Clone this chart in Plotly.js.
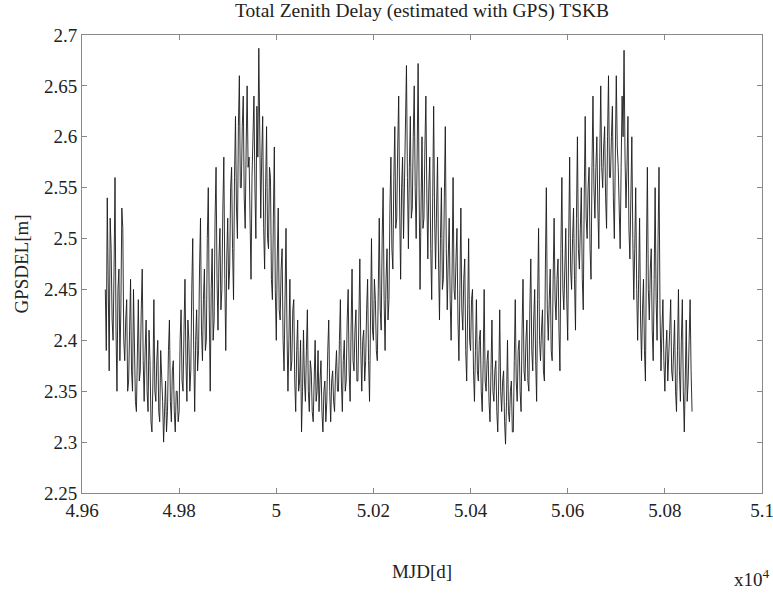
<!DOCTYPE html>
<html>
<head>
<meta charset="utf-8">
<script src="https://cdn.plot.ly/plotly-3.0.1.min.js"></script>
<style>html,body{margin:0;padding:0;background:#fff;}#chart{width:773px;height:594px;}</style>
</head>
<body>
<div id="chart"></div>
<script>
// Sampling grid (MJD, days)
const mjdStart = 49648;
const mjdStep = 2;

// Total zenith delay values [m] (one row = 40 days)
const gpsdel = [
  2.45,2.39,2.54,2.44,2.37,2.52,2.49,2.42,2.40,2.47,2.56,2.41,2.35,2.45,2.47,2.38,2.43,2.53,2.51,2.40,
  2.38,2.42,2.44,2.35,2.36,2.41,2.46,2.37,2.35,2.45,2.40,2.34,2.33,2.39,2.44,2.36,2.37,2.43,2.47,2.38,
  2.34,2.39,2.42,2.35,2.33,2.41,2.38,2.32,2.31,2.36,2.44,2.35,2.34,2.38,2.40,2.33,2.32,2.39,2.37,2.34,
  2.30,2.34,2.36,2.31,2.33,2.39,2.42,2.34,2.32,2.37,2.38,2.33,2.31,2.35,2.35,2.32,2.33,2.40,2.43,2.36,
  2.35,2.41,2.46,2.38,2.34,2.42,2.40,2.35,2.37,2.45,2.50,2.39,2.33,2.40,2.43,2.37,2.39,2.47,2.52,2.41,
  2.38,2.44,2.47,2.39,2.40,2.50,2.55,2.43,2.35,2.45,2.49,2.40,2.42,2.52,2.57,2.46,2.41,2.48,2.51,2.43,
  2.45,2.53,2.58,2.46,2.39,2.48,2.52,2.45,2.47,2.55,2.57,2.49,2.44,2.56,2.62,2.53,2.50,2.61,2.66,2.55,
  2.55,2.61,2.64,2.54,2.51,2.59,2.65,2.57,2.58,2.52,2.46,2.56,2.60,2.64,2.55,2.50,2.63,2.58,2.687,2.57,
  2.52,2.58,2.62,2.51,2.47,2.55,2.61,2.50,2.49,2.57,2.56,2.46,2.44,2.52,2.59,2.45,2.40,2.48,2.53,2.43,
  2.42,2.47,2.49,2.40,2.37,2.44,2.51,2.41,2.35,2.40,2.46,2.37,2.38,2.43,2.44,2.36,2.33,2.39,2.42,2.35,
  2.36,2.40,2.31,2.35,2.41,2.36,2.34,2.39,2.43,2.35,2.33,2.38,2.37,2.33,2.32,2.36,2.40,2.34,2.35,2.39,
  2.33,2.36,2.38,2.33,2.31,2.35,2.36,2.32,2.34,2.39,2.42,2.35,2.32,2.36,2.37,2.34,2.33,2.37,2.39,2.35,
  2.35,2.40,2.44,2.36,2.33,2.38,2.40,2.35,2.36,2.42,2.45,2.37,2.34,2.41,2.47,2.38,2.37,2.41,2.43,2.36,
  2.36,2.42,2.48,2.39,2.35,2.40,2.41,2.36,2.38,2.43,2.46,2.38,2.34,2.42,2.50,2.41,2.40,2.46,2.44,2.39,
  2.38,2.45,2.52,2.43,2.41,2.50,2.55,2.44,2.39,2.46,2.49,2.42,2.44,2.53,2.58,2.49,2.47,2.56,2.61,2.51,
  2.52,2.59,2.64,2.53,2.46,2.55,2.58,2.50,2.55,2.62,2.67,2.56,2.49,2.57,2.62,2.52,2.53,2.60,2.65,2.55,
  2.50,2.58,2.672,2.55,2.45,2.53,2.60,2.51,2.52,2.59,2.64,2.54,2.48,2.55,2.58,2.49,2.44,2.54,2.63,2.52,
  2.47,2.53,2.58,2.48,2.42,2.50,2.55,2.45,2.46,2.54,2.61,2.49,2.43,2.48,2.52,2.44,2.40,2.47,2.56,2.45,
  2.44,2.48,2.51,2.42,2.38,2.45,2.53,2.43,2.41,2.46,2.48,2.39,2.36,2.43,2.50,2.40,2.39,2.44,2.45,2.37,
  2.34,2.39,2.44,2.37,2.36,2.40,2.41,2.35,2.33,2.38,2.45,2.36,2.35,2.38,2.39,2.34,2.32,2.37,2.42,2.35,
  2.34,2.37,2.38,2.33,2.31,2.36,2.43,2.35,2.33,2.36,2.37,2.32,2.298,2.34,2.40,2.33,2.32,2.35,2.36,2.31,
  2.31,2.38,2.44,2.36,2.34,2.39,2.40,2.35,2.33,2.41,2.46,2.37,2.36,2.40,2.42,2.36,2.35,2.43,2.48,2.39,
  2.37,2.42,2.45,2.38,2.34,2.44,2.51,2.40,2.38,2.41,2.43,2.37,2.36,2.47,2.55,2.43,2.40,2.44,2.47,2.39,
  2.38,2.46,2.52,2.44,2.42,2.46,2.48,2.41,2.37,2.49,2.56,2.45,2.43,2.47,2.51,2.44,2.40,2.50,2.58,2.47,
  2.45,2.50,2.53,2.46,2.41,2.52,2.60,2.49,2.47,2.51,2.55,2.46,2.43,2.54,2.62,2.52,2.50,2.55,2.57,2.49,
  2.46,2.57,2.64,2.55,2.52,2.57,2.60,2.53,2.49,2.58,2.65,2.57,2.55,2.59,2.61,2.54,2.51,2.60,2.66,2.56,
  2.56,2.60,2.63,2.54,2.50,2.58,2.66,2.59,2.57,2.53,2.49,2.57,2.64,2.60,2.685,2.58,2.53,2.57,2.62,2.51,
  2.48,2.54,2.60,2.50,2.44,2.49,2.55,2.45,2.40,2.46,2.52,2.42,2.38,2.43,2.46,2.39,2.36,2.48,2.57,2.45,
  2.42,2.47,2.49,2.41,2.38,2.46,2.55,2.44,2.40,2.50,2.57,2.43,2.37,2.41,2.44,2.38,2.35,2.39,2.41,2.36,
  2.38,2.41,2.44,2.37,2.36,2.40,2.42,2.35,2.33,2.39,2.45,2.37,2.34,2.40,2.44,2.35,2.31,2.36,2.42,2.34,
  2.36,2.40,2.44,2.37,2.33
];
const mjd = gpsdel.map((_, i) => mjdStart + i * mjdStep);

const xTickVals = [49600, 49800, 50000, 50200, 50400, 50600, 50800, 51000];
const xTickText = ['4.96', '4.98', '5', '5.02', '5.04', '5.06', '5.08', '5.1'];
const yTickVals = [2.25, 2.3, 2.35, 2.4, 2.45, 2.5, 2.55, 2.6, 2.65, 2.7];
const yTickText = ['2.25', '2.3', '2.35', '2.4', '2.45', '2.5', '2.55', '2.6', '2.65', '2.7'];

const serif = 'Liberation Serif, Times New Roman, serif';

const trace = {
  x: mjd, y: gpsdel, type: 'scatter', mode: 'lines',
  line: {color: '#1a1a1a', width: 0.9},
  hoverinfo: 'skip'
};

const layout = {
  width: 773, height: 594,
  margin: {l: 82, r: 11, t: 35, b: 101},
  paper_bgcolor: '#ffffff', plot_bgcolor: '#ffffff',
  showlegend: false,
  font: {family: serif, color: '#222', size: 19},
  title: {text: 'Total Zenith Delay (estimated with GPS) TSKB', font: {family: serif, size: 19.5, color: '#222'}, x: 0.546, xanchor: 'center', y: 0.995, yanchor: 'top'},
  xaxis: {
    range: [49600, 51000], tickvals: xTickVals, ticktext: xTickText,
    ticks: 'inside', ticklen: 5, tickcolor: '#888', showgrid: false, zeroline: false,
    showline: true, mirror: 'ticks', linecolor: '#888', linewidth: 1,
    ticklabeloverflow: 'allow',
    tickfont: {family: serif, size: 19, color: '#222'},
    title: {text: 'MJD[d]', font: {family: serif, size: 19, color: '#222'}, standoff: 44}
  },
  yaxis: {
    range: [2.25, 2.7], tickvals: yTickVals, ticktext: yTickText,
    ticks: 'inside', ticklen: 5, tickcolor: '#888', showgrid: false, zeroline: false,
    showline: true, mirror: 'ticks', linecolor: '#888', linewidth: 1,
    ticklabeloverflow: 'allow',
    tickfont: {family: serif, size: 19, color: '#222'},
    title: {text: 'GPSDEL[m]', font: {family: serif, size: 19, color: '#222'}, standoff: 10}
  },
  annotations: [{
    text: 'x10<sup>4</sup>', xref: 'paper', yref: 'paper', x: 0.985, y: -0.186,
    xanchor: 'center', yanchor: 'middle', showarrow: false,
    font: {family: serif, size: 19, color: '#222'}
  }]
};

Plotly.newPlot('chart', [trace], layout, {displayModeBar: false, staticPlot: true});
</script>
</body>
</html>
